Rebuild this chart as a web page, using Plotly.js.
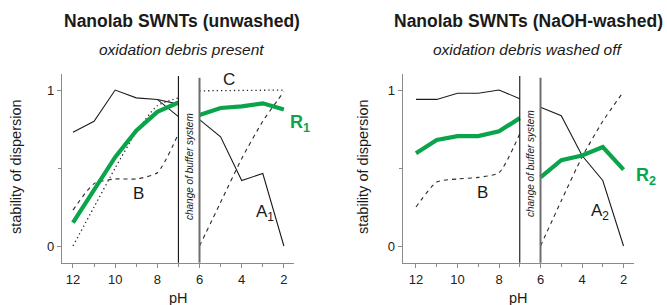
<!DOCTYPE html>
<html><head><meta charset="utf-8">
<script src="https://cdn.plot.ly/plotly-3.0.1.min.js"></script>
<style>html,body{margin:0;padding:0;background:#fff}#chart{width:667px;height:305px}</style>
</head><body><div id="chart"></div>
<script>
// ---- data ----
const pHLow = [12, 11, 10, 9, 8, 7];   // before the change of buffer system
const pHHigh = [6, 5, 4, 3, 2];        // after the change of buffer system
const pHUpperBranch = [8, 7];
const pHTicks = [12, 10, 8, 6, 4, 2];
const pHMinorTicks = [11, 9, 7, 5, 3];
const stabilityTicks = [0, 1];
const stabilityMinorTicks = [0.5];
const bufferChange = [7, 6];

// left panel: Nanolab SWNTs (unwashed)
const unwashedSolidLow = [0.73, 0.80, 1.00, 0.95, 0.94, 0.83];
const unwashedSolidUpper = [0.94, 0.91];
const unwashedA1 = [0.81, 0.70, 0.42, 0.465, 0.00];
const unwashedDashedLow = [0.23, 0.40, 0.43, 0.43, 0.47, 0.72];
const unwashedDashedHigh = [0.00, 0.28, 0.56, 0.80, 0.99];
const unwashedDottedLow = [0.00, 0.25, 0.50, 0.73, 0.90, 0.95];
const unwashedDottedC = [0.995, 0.997, 1.00, 1.00, 1.00];
const unwashedR1Low = [0.15, 0.36, 0.57, 0.74, 0.86, 0.92];
const unwashedR1High = [0.84, 0.885, 0.895, 0.915, 0.875];

// right panel: Nanolab SWNTs (NaOH-washed)
const washedSolidLow = [0.94, 0.94, 0.98, 0.98, 1.00, 0.945];
const washedA2 = [0.89, 0.835, 0.58, 0.42, 0.00];
const washedDashedLow = [0.25, 0.41, 0.43, 0.44, 0.47, 0.72];
const washedDashedHigh = [0.00, 0.29, 0.57, 0.80, 0.99];
const washedR2Low = [0.595, 0.68, 0.705, 0.705, 0.735, 0.82];
const washedR2High = [0.44, 0.55, 0.58, 0.635, 0.49];

// ---- styles ----
const W = 667, H = 305;
const fx = p => p / W, fy = p => 1 - p / H;
const GREEN = '#0aa54b', INK = '#1c1c1c', AX = '#8a8a8a';
const FONT = 'Liberation Sans, Arial, sans-serif';

function joined(xa, ya, xb, yb) {
  return { x: xa.concat([null], xb), y: ya.concat([null], yb) };
}
function tr(xy, axes, line) {
  return Object.assign({ type: 'scatter', mode: 'lines', hoverinfo: 'skip', connectgaps: false,
    xaxis: axes[0], yaxis: axes[1], line: line }, xy);
}
const solid = { color: INK, width: 1.1 };
const dashed = { color: '#2a2a2a', width: 1.1, dash: '4px,4px', shape: 'spline', smoothing: 0.6 };
const dotted = { color: '#2a2a2a', width: 1.3, dash: '1.3px,3px', shape: 'spline', smoothing: 0.6 };
const dottedFlat = { color: '#2a2a2a', width: 1.3, dash: '1.3px,3px' };
const green = { color: GREEN, width: 4.2 };
const L = ['x', 'y'], R = ['x2', 'y2'];

const data = [
  // left
  tr(joined(pHLow, unwashedSolidLow, pHHigh, unwashedA1), L, solid),
  tr({ x: pHUpperBranch, y: unwashedSolidUpper }, L, solid),
  tr({ x: pHLow, y: unwashedDottedLow }, L, dotted),
  tr({ x: pHHigh, y: unwashedDottedC }, L, dottedFlat),
  tr(joined(pHLow, unwashedDashedLow, pHHigh, unwashedDashedHigh), L, dashed),
  tr(joined(pHLow, unwashedR1Low, pHHigh, unwashedR1High), L, green),
  // right
  tr(joined(pHLow, washedSolidLow, pHHigh, washedA2), R, solid),
  tr(joined(pHLow, washedDashedLow, pHHigh, washedDashedHigh), R, dashed),
  tr(joined(pHLow, washedR2Low, pHHigh, washedR2High), R, green)
];

function xax(domain, range) {
  return { domain: domain, range: range, showgrid: false, zeroline: false, showline: true,
    linecolor: AX, linewidth: 1.2, ticks: 'outside', ticklen: 4, tickcolor: AX, tickwidth: 1,
    tickmode: 'array', tickvals: pHTicks, ticktext: pHTicks.map(String),
    tickfont: { size: 13, color: '#222' },
    minor: { tickmode: 'array', tickvals: pHMinorTicks, ticks: 'outside', ticklen: 3, tickcolor: AX } };
}
function yax(anchor) {
  return { domain: [fy(262.7), fy(74)], range: [-0.107, 1.103], anchor: anchor,
    showgrid: false, zeroline: false, showline: true, linecolor: AX, linewidth: 1.2,
    ticks: 'outside', ticklen: 4, tickcolor: AX, tickmode: 'array', tickvals: stabilityTicks,
    ticktext: stabilityTicks.map(String), tickfont: { size: 13, color: '#222' },
    minor: { tickmode: 'array', tickvals: stabilityMinorTicks, ticks: 'outside', ticklen: 3, tickcolor: AX } };
}

function ann(text, x, y, size, extra) {
  return Object.assign({ text: text, xref: 'paper', yref: 'paper', x: fx(x), y: fy(y),
    xanchor: 'center', yanchor: 'middle', showarrow: false,
    font: { size: size, color: '#1a1a1a', family: FONT } }, extra || {});
}
const annotations = [
  ann('<b>Nanolab SWNTs (unwashed)</b>', 182, 21, 17.5),
  ann('<i>oxidation debris present</i>', 182, 50, 15.5),
  ann('<b>Nanolab SWNTs (NaOH-washed)</b>', 528, 21, 17.5),
  ann('<i>oxidation debris washed off</i>', 528, 50, 15.5),
  ann('stability of dispersion', 16, 167, 14.5, { textangle: -90 }),
  ann('stability of dispersion', 363, 167, 14.5, { textangle: -90 }),
  ann('pH', 178, 298, 14.5),
  ann('pH', 518, 298, 14.5),
  ann('<i>change of buffer system</i>', 189, 167, 10, { textangle: -90 }),
  ann('<i>change of buffer system</i>', 530, 164, 10, { textangle: -90 }),
  ann('C', 229, 79, 17),
  ann('B', 138, 193, 17),
  ann('A<sub>1</sub>', 265, 213, 17),
  ann('<b>R<sub>1</sub></b>', 300, 123, 18, { font: { size: 18, color: GREEN, family: FONT } }),
  ann('B', 482, 192, 17),
  ann('A<sub>2</sub>', 600, 212, 17),
  ann('<b>R<sub>2</sub></b>', 646, 176, 18, { font: { size: 18, color: GREEN, family: FONT } })
];

const shapes = [];
[['x', 'y'], ['x2', 'y2']].forEach(([xr, yr]) => {
  shapes.push({ type: 'line', xref: xr, yref: yr + ' domain', x0: bufferChange[0], x1: bufferChange[0], y0: 0, y1: 0.99,
    line: { color: '#111', width: 1.1 } });
  shapes.push({ type: 'line', xref: xr, yref: yr + ' domain', x0: bufferChange[1], x1: bufferChange[1], y0: 0, y1: 0.98,
    line: { color: '#6e6e6e', width: 2 } });
});

const layout = {
  width: W, height: H, margin: { l: 0, r: 0, t: 0, b: 0 }, showlegend: false,
  paper_bgcolor: '#fff', plot_bgcolor: '#fff',
  font: { family: FONT, color: '#222', size: 13 },
  xaxis: Object.assign(xax([fx(62), fx(294)], [12.52, 1.52]), { anchor: 'y' }),
  yaxis: yax('x'),
  xaxis2: Object.assign(xax([fx(402.7), fx(633.5)], [12.64, 1.52]), { anchor: 'y2' }),
  yaxis2: yax('x2'),
  annotations: annotations, shapes: shapes
};

Plotly.newPlot('chart', data, layout, { staticPlot: true, displayModeBar: false });
</script>
</body></html>
